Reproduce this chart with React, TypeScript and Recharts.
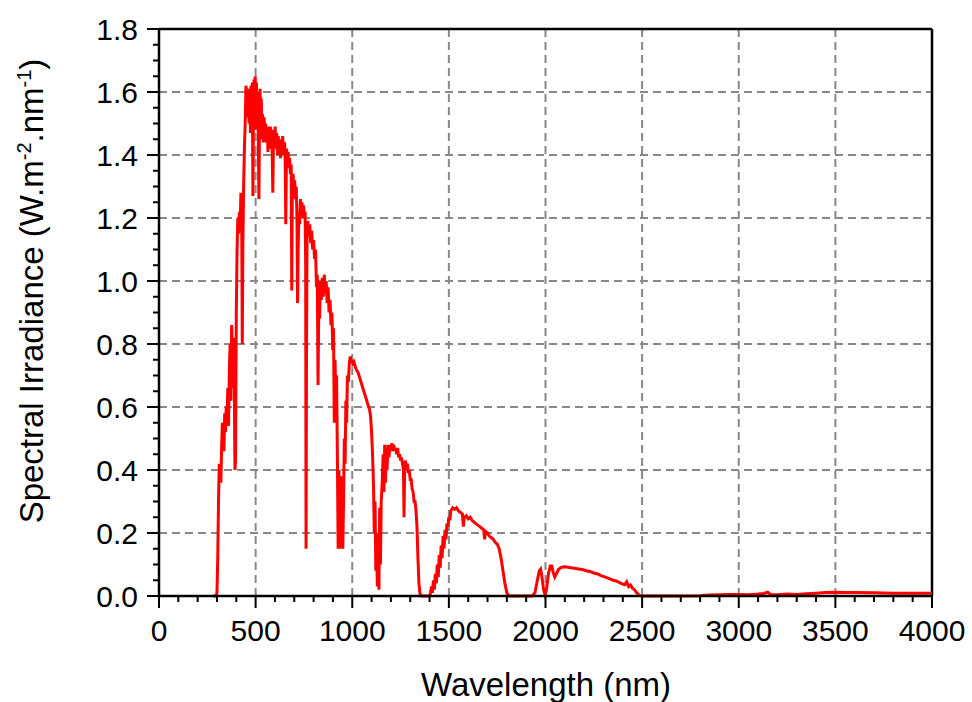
import React from 'react';
import { LineChart, Line, XAxis, YAxis, ReferenceLine, Label } from 'recharts';

// values (nm, W.m-2.nm-1)
const uvNm = [280, 295, 300, 304, 308, 312, 316, 320, 324, 328, 332, 336, 340, 344, 348, 352, 356, 360, 364, 368, 372, 376, 380, 384, 388, 393, 396, 400, 404, 408, 412, 416, 420, 424, 428, 431, 434, 438, 442, 446, 450, 455];
const uvIrr = [0, 0, 0.01, 0.12, 0.3, 0.42, 0.4, 0.36, 0.47, 0.55, 0.5, 0.46, 0.58, 0.52, 0.6, 0.56, 0.66, 0.54, 0.72, 0.8, 0.62, 0.86, 0.75, 0.66, 0.82, 0.4, 0.43, 0.9, 1.1, 1.2, 1.15, 1.22, 1.18, 1.28, 1.2, 0.8, 1.12, 1.3, 1.42, 1.5, 1.62, 1.58];

const visNm = [460, 463, 466, 470, 473, 476, 480, 483, 486, 489, 492, 495, 498, 501, 504, 507, 510, 514, 517, 520, 523, 526, 529, 532, 536, 540, 544, 548, 552, 556, 560, 564, 568, 572, 576, 580, 584, 589, 593, 597, 601, 605, 609, 613, 617, 621, 625, 629, 633, 637, 640, 645, 650, 653, 656, 660, 664, 668, 672, 676, 680, 684, 687, 690, 694, 698, 702, 706, 710, 714, 717, 720, 724, 728, 732, 736, 740, 744, 748, 752, 756, 759, 761, 763, 766];
const visIrr = [1.52, 1.61, 1.5, 1.6, 1.47, 1.62, 1.55, 1.63, 1.27, 1.56, 1.64, 1.52, 1.65, 1.48, 1.63, 1.55, 1.6, 1.46, 1.26, 1.5, 1.61, 1.45, 1.58, 1.48, 1.53, 1.44, 1.52, 1.46, 1.5, 1.44, 1.49, 1.41, 1.48, 1.43, 1.49, 1.42, 1.48, 1.28, 1.48, 1.42, 1.49, 1.43, 1.47, 1.4, 1.46, 1.41, 1.45, 1.39, 1.45, 1.4, 1.46, 1.4, 1.44, 1.38, 1.18, 1.42, 1.38, 1.41, 1.36, 1.39, 1.34, 1.37, 0.97, 1.3, 1.34, 1.28, 1.32, 1.26, 1.3, 1.2, 0.93, 1.1, 1.22, 1.18, 1.26, 1.21, 1.25, 1.2, 1.24, 1.21, 1.22, 1.05, 0.15, 0.7, 1.15];

const nirNm = [770, 775, 780, 785, 790, 795, 800, 805, 810, 815, 819, 823, 827, 831, 835, 840, 845, 850, 855, 860, 865, 870, 875, 880, 885, 890, 895, 899, 903, 907, 911, 915, 919, 923, 927, 931, 935, 939, 943, 947, 951, 955, 959, 963, 967, 971, 975, 980, 985, 990, 995, 1000, 1005, 1010, 1020, 1030, 1040, 1050, 1060, 1070, 1080, 1090, 1095, 1100, 1105, 1110, 1114, 1118, 1122, 1126, 1130, 1134, 1138, 1142, 1146, 1150, 1155, 1160, 1164, 1168, 1172, 1176, 1180, 1185, 1190, 1195, 1200, 1205, 1210, 1215, 1220, 1225, 1230, 1235, 1240, 1245, 1250, 1255, 1260, 1265, 1268, 1271, 1275, 1280, 1285, 1290, 1295, 1300, 1305, 1310, 1315, 1320, 1325, 1330, 1335, 1340, 1345, 1350, 1355];
const nirIrr = [1.19, 1.14, 1.18, 1.12, 1.16, 1.1, 1.13, 1.07, 1.1, 0.98, 1.02, 0.67, 0.95, 0.88, 1.0, 0.94, 1.01, 0.95, 1.02, 0.96, 1.0, 0.93, 0.98, 0.9, 0.94, 0.86, 0.9, 0.78, 0.85, 0.55, 0.75, 0.62, 0.7, 0.45, 0.15, 0.4, 0.15, 0.35, 0.2, 0.38, 0.15, 0.3, 0.5, 0.42, 0.62, 0.55, 0.7, 0.68, 0.74, 0.76, 0.74, 0.75, 0.73, 0.74, 0.72, 0.71, 0.69, 0.67, 0.65, 0.63, 0.61, 0.59, 0.57, 0.52, 0.45, 0.35, 0.2, 0.3, 0.08, 0.15, 0.03, 0.2, 0.02, 0.28, 0.1, 0.3, 0.36, 0.45, 0.33, 0.48, 0.36, 0.47, 0.4, 0.48, 0.44, 0.48, 0.46, 0.485, 0.46, 0.48, 0.46, 0.47, 0.45, 0.47, 0.44, 0.45, 0.43, 0.44, 0.42, 0.4, 0.25, 0.4, 0.43, 0.41, 0.42, 0.39, 0.4, 0.37, 0.37, 0.34, 0.33, 0.3, 0.3, 0.27, 0.22, 0.12, 0.04, 0.01, 0];

const swirNm = [1400, 1405, 1410, 1415, 1420, 1425, 1430, 1435, 1440, 1445, 1450, 1455, 1460, 1465, 1470, 1475, 1480, 1485, 1490, 1495, 1500, 1505, 1510, 1520, 1530, 1540, 1550, 1560, 1570, 1575, 1580, 1590, 1600, 1610, 1620, 1630, 1640, 1650, 1660, 1670, 1680, 1685, 1690, 1700, 1710, 1720, 1730, 1740, 1750, 1760, 1770, 1780, 1790, 1800, 1810];
const swirIrr = [0, 0.01, 0.03, 0.01, 0.05, 0.02, 0.07, 0.04, 0.1, 0.06, 0.13, 0.09, 0.16, 0.12, 0.19, 0.15, 0.21, 0.18, 0.23, 0.22, 0.25, 0.24, 0.27, 0.28, 0.275, 0.28, 0.27, 0.265, 0.26, 0.22, 0.25, 0.255, 0.245, 0.25, 0.24, 0.235, 0.23, 0.225, 0.22, 0.215, 0.21, 0.18, 0.205, 0.2, 0.19, 0.185, 0.18, 0.17, 0.165, 0.15, 0.12, 0.08, 0.04, 0.01, 0];

const irNm = [1930, 1945, 1958, 1968, 1975, 1982, 1990, 1998, 2005, 2015, 2025, 2032, 2040, 2048, 2056, 2068, 2080, 2095, 2110, 2130, 2150, 2170, 2190, 2210, 2230, 2250, 2270, 2290, 2310, 2330, 2350, 2370, 2390, 2410, 2420, 2430, 2440, 2450, 2460, 2470, 2480, 2490, 2500];
const irIrr = [0, 0.01, 0.05, 0.08, 0.085, 0.06, 0.02, 0.003, 0.02, 0.07, 0.095, 0.095, 0.075, 0.06, 0.07, 0.085, 0.09, 0.093, 0.092, 0.09, 0.088, 0.086, 0.084, 0.08, 0.078, 0.073, 0.07, 0.064, 0.06, 0.055, 0.05, 0.047, 0.04, 0.036, 0.045, 0.03, 0.035, 0.025, 0.02, 0.012, 0.005, 0.001, 0];

const midNm = [2700, 2800, 2850, 2900, 2950, 3000, 3050, 3100, 3130, 3150, 3165, 3200, 3250, 3300, 3350, 3400, 3450, 3500, 3550, 3600, 3700, 3800, 3900, 4000];
const midIrr = [0, 0.001, 0.003, 0.004, 0.005, 0.005, 0.004, 0.006, 0.008, 0.012, 0.005, 0.004, 0.006, 0.005, 0.007, 0.009, 0.011, 0.012, 0.011, 0.011, 0.01, 0.009, 0.009, 0.009];

const xMajor = [0, 500, 1000, 1500, 2000, 2500, 3000, 3500, 4000];
const yMajor = [0, 0.2, 0.4, 0.6, 0.8, 1.0, 1.2, 1.4, 1.6, 1.8];
const xTicks = Array.from({ length: 41 }, (_, i) => i * 100);
const yTicks = Array.from({ length: 37 }, (_, i) => Math.round(i * 5) / 100);

const pairs: [number[], number[]][] = [
  [uvNm, uvIrr],
  [visNm, visIrr],
  [nirNm, nirIrr],
  [swirNm, swirIrr],
  [irNm, irIrr],
  [midNm, midIrr],
];
const data = pairs.flatMap(([nm, irr]) => nm.map((wl, i) => ({ wl, irr: irr[i] })));

const FONT = '"Liberation Sans", Arial, sans-serif';
const GRID = '#888888';

const XTick = ({ x, y, payload }: any) => {
  const major = payload.value % 500 === 0;
  return (
    <g>
      <line x1={x} x2={x} y1={y} y2={y + (major ? 12 : 6)} stroke="#000" strokeWidth={2} />
      {major && (
        <text x={x} y={y + 45} textAnchor="middle" fontSize={30} fontFamily={FONT} fill="#000">
          {payload.value}
        </text>
      )}
    </g>
  );
};

const YTick = ({ x, y, payload }: any) => {
  const major = Math.round(payload.value * 100) % 20 === 0;
  return (
    <g>
      <line x1={x - (major ? 12 : 6)} x2={x} y1={y} y2={y} stroke="#000" strokeWidth={2} />
      {major && (
        <text x={x - 21} y={y + 11} textAnchor="end" fontSize={30} fontFamily={FONT} fill="#000">
          {payload.value.toFixed(1)}
        </text>
      )}
    </g>
  );
};

const XTitle = () => (
  <text x={546} y={696} textAnchor="middle" fontSize={33} fontFamily={FONT} fill="#000">
    Wavelength (nm)
  </text>
);

const YTitle = () => (
  <text
    x={43}
    y={291}
    transform="rotate(-90 43 291)"
    textAnchor="middle"
    fontSize={33}
    fontFamily={FONT}
    fill="#000"
  >
    Spectral Irradiance (W.m
    <tspan dy={-12} fontSize={20}>-2</tspan>
    <tspan dy={12}>.nm</tspan>
    <tspan dy={-12} fontSize={20}>-1</tspan>
    <tspan dy={12}>)</tspan>
  </text>
);

const App = () => (
  <div style={{ position: 'absolute', left: 0, top: 0, background: '#fff' }}>
    <LineChart width={972} height={702} data={data} margin={{ top: 29, right: 40, bottom: 46, left: 79 }}>
      <XAxis
        dataKey="wl"
        type="number"
        domain={[0, 4000]}
        ticks={xTicks}
        interval={0}
        tickSize={0}
        tickMargin={0}
        tick={<XTick />}
        height={60}
        axisLine={{ stroke: '#000', strokeWidth: 2.5 }}
      >
        <Label content={<XTitle />} />
      </XAxis>
      <YAxis
        type="number"
        domain={[0, 1.8]}
        ticks={yTicks}
        interval={0}
        tickSize={0}
        tickMargin={0}
        tick={<YTick />}
        width={80}
        axisLine={{ stroke: '#000', strokeWidth: 2.5 }}
      >
        <Label content={<YTitle />} />
      </YAxis>
      {yMajor.slice(1, -1).map((v) => (
        <ReferenceLine key={'h' + v} y={v} stroke={GRID} strokeWidth={2} strokeDasharray="8 5" />
      ))}
      {xMajor.slice(1, -1).map((v) => (
        <ReferenceLine key={'v' + v} x={v} stroke={GRID} strokeWidth={2} strokeDasharray="8 5" />
      ))}
      <ReferenceLine y={1.8} stroke="#000" strokeWidth={2.5} />
      <ReferenceLine x={4000} stroke="#000" strokeWidth={2.5} />
      <Line
        type="linear"
        dataKey="irr"
        stroke="#ff0000"
        strokeWidth={3}
        dot={false}
        isAnimationActive={false}
      />
    </LineChart>
  </div>
);

export default App;
